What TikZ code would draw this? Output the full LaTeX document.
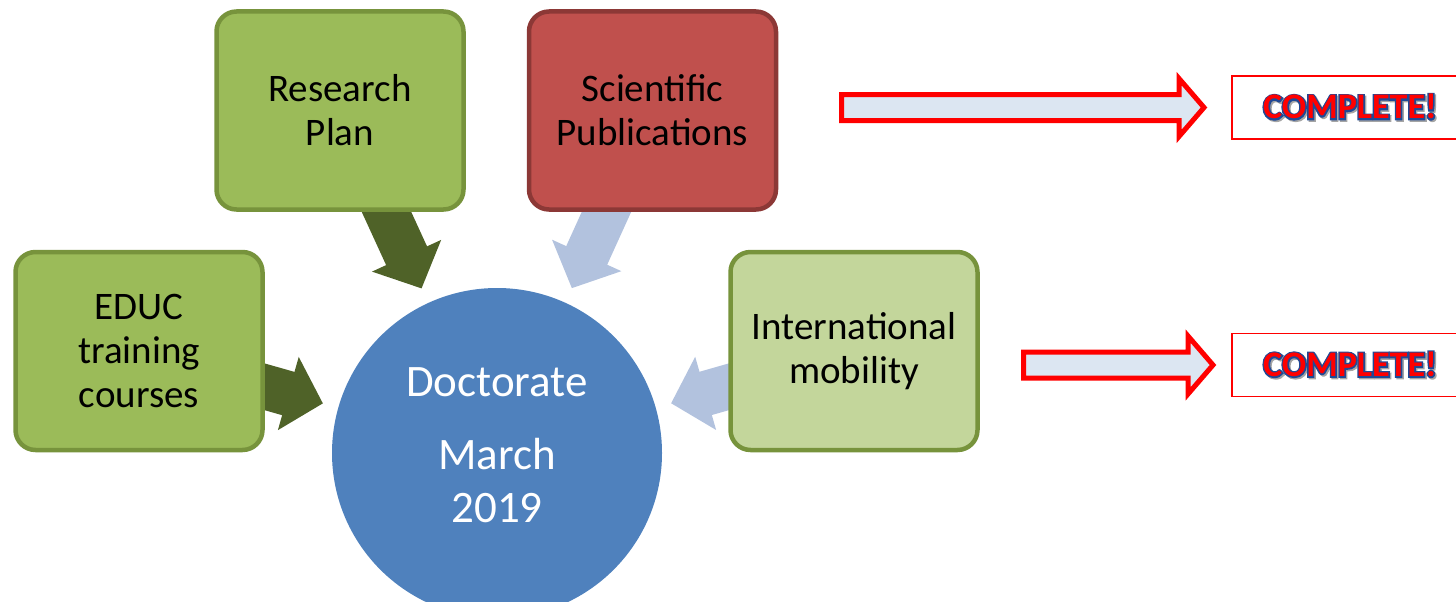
\documentclass[tikz,border=0pt]{standalone}
\usepackage{fontspec}
\setmainfont{Carlito}
\usetikzlibrary{arrows.meta,calc,backgrounds}
\definecolor{PlanGreen}{RGB}{155,187,89}
\definecolor{PlanDGreen}{RGB}{119,147,60}
\definecolor{MobGreen}{RGB}{195,214,155}
\definecolor{PubRed}{RGB}{192,80,77}
\definecolor{PubDRed}{RGB}{140,56,54}
\definecolor{DocBlue}{RGB}{79,129,189}
\definecolor{FeedDGreen}{RGB}{79,98,40}
\definecolor{FeedBlue}{RGB}{178,194,222}
\definecolor{DoneFill}{RGB}{220,230,242}
\definecolor{DoneBlue}{RGB}{31,73,150}
\definecolor{DoneShadow}{RGB}{165,165,165}

% text render mode 2 = fill and stroke the glyphs
\newcommand\strokedtext[1]{\special{pdf:literal direct 2 Tr 3 w}#1\special{pdf:literal direct 0 Tr}}
\newcommand\donetext[1]{%
  \rlap{\kern1.5pt\raisebox{-1.5pt}{\color{DoneShadow}\strokedtext{#1}}}% shadow
  \rlap{\color{DoneBlue}\strokedtext{#1}}% blue outline
  \textcolor{red}{#1}}
% outlined block arrow: from x #1 to tip x #2 at height #3
\newcommand\outarrow[3]{%
  \filldraw[donearrow] (#1,#3-13) -- (#2-25,#3-13) -- (#2-25,#3-29) -- (#2,#3)
    -- (#2-25,#3+29) -- (#2-25,#3+13) -- (#1,#3+13) -- cycle;}

\begin{document}
\begin{tikzpicture}[x=1pt, y=-1pt,
  goal/.style={draw=PlanDGreen, line width=4.5pt, rounded corners=20pt, minimum width=247pt,
    minimum height=198pt, inner sep=0pt, align=center, font=\fontsize{39}{44}\selectfont},
  feed/.style={line width=45pt, -{Triangle[length=36pt, width=74pt]}},
  donebox/.style={draw=red, line width=1.5pt, minimum width=236pt, minimum height=63pt,
    inner sep=0pt, font=\fontsize{36}{40}\selectfont\bfseries},
  donearrow/.style={draw=red, fill=DoneFill, line width=5pt, line join=miter}]
\pgfmathsetmacro{\rdoc}{165} % radius of the doctorate circle
\pgfmathsetmacro{\rtip}{181} % distance of the arrow tips from the circle centre

\useasboundingbox (0,0) rectangle (1456,602);
\clip (0,0) rectangle (1456,602);

\node[circle, fill=DocBlue, minimum size=2*\rdoc pt, inner sep=0pt, text=white, align=center,
  font=\fontsize{45}{53}\selectfont] (doc) at (497,453)
  {Doctorate\\[20pt]March\\2019\rule[-15pt]{0pt}{15pt}};

\node[goal, fill=PlanGreen] (plan) at (340,110.5) {Research\\Plan};
\node[goal, fill=PubRed, draw=PubDRed] (publ) at (652.5,110.5) {Scientific\\Publications};
\node[goal, fill=PlanGreen] (educ) at (139,351) {EDUC\\training\\courses};
\node[goal, fill=MobGreen] (mobil) at (854,351) {International\\mobility};

% radial arrows, tips kept off the circle
\begin{scope}[on background layer]
\draw[feed, FeedDGreen] (plan.center) -- ($(doc)!\rtip pt!(plan)$);
\draw[feed, FeedBlue] (publ.center) -- ($(doc)!\rtip pt!(publ)$);
\draw[feed, FeedDGreen] (educ.center) -- ($(doc)!\rtip pt!(educ)$);
\draw[feed, FeedBlue] (mobil.center) -- ($(doc)!\rtip pt!(mobil)$);
\end{scope}

\outarrow{841.5}{1204}{107.5} % upper red arrow
\outarrow{1023.5}{1213}{365} % lower red arrow

\node[donebox] (done1) at (1350,107.5) {\donetext{COMPLETE!}};
\node[donebox] (done2) at (1350,365) {\donetext{COMPLETE!}};
\end{tikzpicture}
\end{document}
